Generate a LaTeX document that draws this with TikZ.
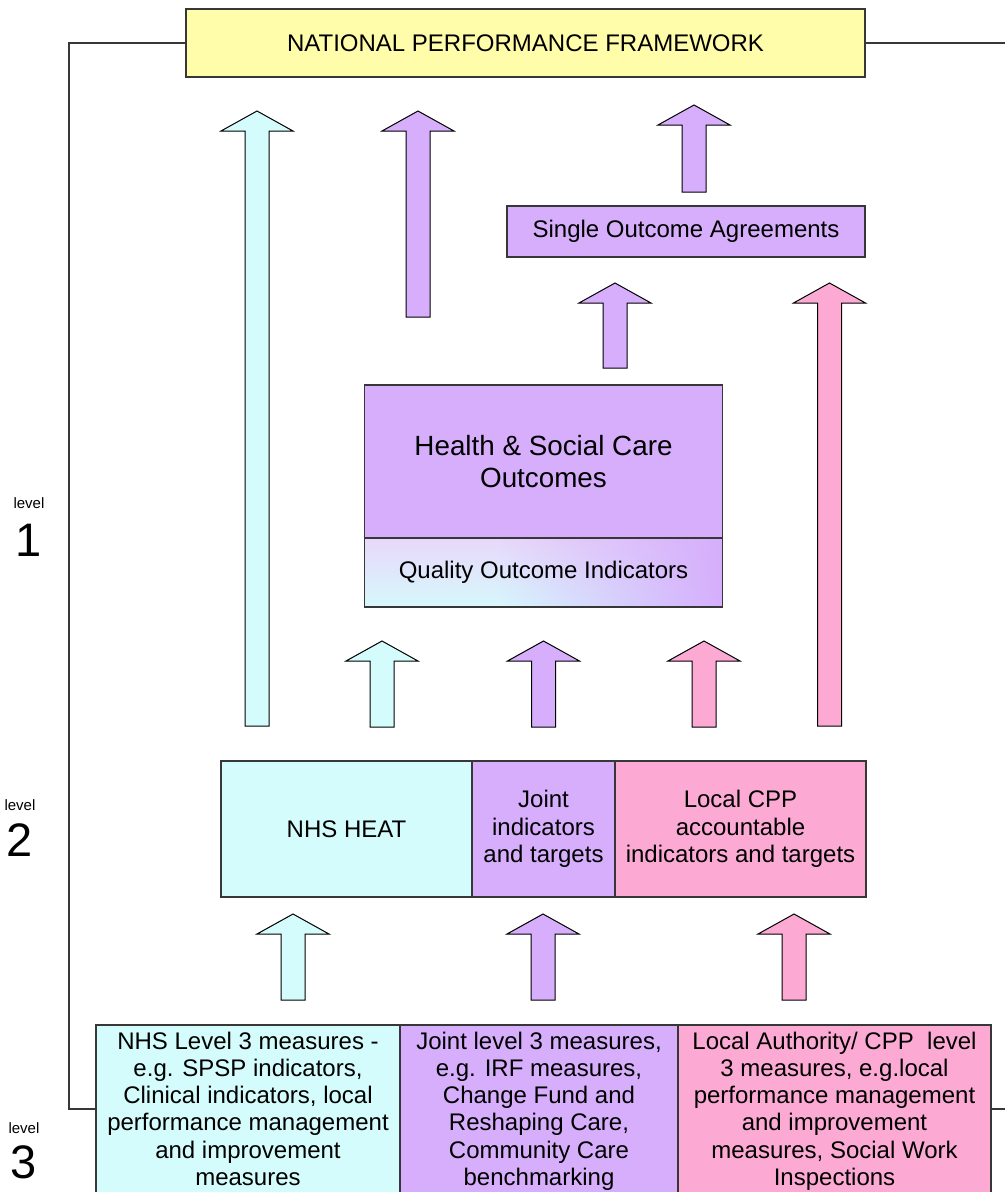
\documentclass[tikz,border=0pt]{standalone}
\usepackage{fontspec}
\setmainfont{Liberation Sans}
\usetikzlibrary{fadings}
\definecolor{ylw}{RGB}{255,252,170}
\definecolor{cyn}{RGB}{212,252,252}
\definecolor{prp}{RGB}{214,174,252}
\definecolor{pnk}{RGB}{252,170,212}
\definecolor{qtop}{RGB}{232,216,250}
\definecolor{qbot}{RGB}{214,248,252}
\definecolor{edgec}{RGB}{55,55,55}
\tikzfading[name=fadeleft, left color=transparent!100, right color=transparent!0]
\tikzset{
  box/.style={draw=edgec, line width=1.1pt, inner sep=0pt, align=center,
    font=\fontsize{24}{27.3}\selectfont},
  boxtext/.style={inner sep=0pt, align=center, font=\fontsize{24}{27.3}\selectfont},
  blk/.style={draw=black, line width=1pt, line join=miter},
  frameline/.style={draw=edgec, line width=1.1pt},
  lvlword/.style={inner sep=0pt, font=\fontsize{15}{18}\selectfont},
  lvlnum/.style={inner sep=0pt, font=\fontsize{47}{50}\selectfont}
}
\newcommand\blockup[4]{%
  \filldraw[blk, fill=#4] (#1,#2) -- (#1+36,#2+20) -- (#1+12,#2+20) -- (#1+12,#3)
    -- (#1-12,#3) -- (#1-12,#2+20) -- (#1-36,#2+20) -- cycle;
}
\begin{document}
\begin{tikzpicture}[x=1pt,y=-1pt]
\useasboundingbox (0,0) rectangle (1005,1192);
\clip (0,0) rectangle (1005,1192);

% frame lines
\coordinate (fl) at (69,1109);
\coordinate (fr) at (1005,43);
\coordinate (fr2) at (1005,1109);

% top box
\node[box, fill=ylw, minimum width=679pt, minimum height=68pt] (npf) at (525.5,43) {NATIONAL PERFORMANCE FRAMEWORK};

% single outcome agreements
\node[box, fill=prp, minimum width=358pt, minimum height=51pt] (soa) at (686,231.5) {Single Outcome Agreements};

% health & social care
\node[box, fill=prp, minimum width=358pt, minimum height=153pt, font=\fontsize{27.8}{32}\selectfont] (hsc) at (543.5,461.5) {Health \& Social Care\\Outcomes};
% quality outcome indicators background
\shade[top color=qtop, bottom color=qbot] (364.5,538) rectangle (722.5,607);
\fill[prp, path fading=fadeleft] (500,538) rectangle (722.5,607);
\node[box, minimum width=358pt, minimum height=69pt] (qoi) at (543.5,572.5) {Quality Outcome Indicators};

% level 2
\node[box, fill=cyn, minimum width=251pt, minimum height=136pt] (heat) at (346.5,829) {NHS HEAT};
\node[box, fill=prp, minimum width=143pt, minimum height=136pt] (jit) at (543.5,829) {Joint\\indicators\\and targets};
\node[box, fill=pnk, minimum width=251pt, minimum height=136pt] (cpp) at (740.5,829) {Local CPP\\accountable\\indicators and targets};

% level 3
\node[box, fill=cyn, minimum width=304pt, minimum height=200pt] (nhsl) at (248,1125) {};
\node[box, fill=prp, minimum width=278pt, minimum height=200pt] (jl) at (539,1125) {};
\node[box, fill=pnk, minimum width=313pt, minimum height=200pt] (lal) at (834.5,1125) {};
\node[boxtext, anchor=north, yshift=-7pt] (nhslt) at (nhsl.north) {NHS Level 3 measures -\\e.g. SPSP indicators,\\Clinical indicators, local\\performance management\\and improvement\\measures};
\node[boxtext, anchor=north, yshift=-7pt] (jlt) at (jl.north) {Joint level 3 measures,\\e.g. IRF measures,\\Change Fund and\\Reshaping Care,\\Community Care\\benchmarking};
\node[boxtext, anchor=north, yshift=-7pt] (lalt) at (lal.north) {Local Authority/ CPP\ \ level\\3 measures, e.g.local\\performance management\\and improvement\\measures, Social Work\\Inspections};

% frame connectors
\draw[frameline] (npf.west) -| (fl) -- (fl -| nhsl.west);
\draw[frameline] (npf.east) -- (fr);
\draw[frameline] (fr2 -| lal.east) -- (fr2);

% level labels
\node[lvlword] (lw1) at (29,503) {level};
\node[lvlnum] (ln1) at (29,540) {1};
\node[lvlword] (lw2) at (20,805) {level};
\node[lvlnum] (ln2) at (20,840) {2};
\node[lvlword] (lw3) at (24,1128) {level};
\node[lvlnum] (ln3) at (24,1162) {3};

% block arrows
\blockup{257}{111}{726}{cyn}
\blockup{418}{111}{317}{prp}
\blockup{694}{105}{192}{prp}
\blockup{615}{283}{368}{prp}
\blockup{829.5}{283}{726}{pnk}
\blockup{382}{641}{727}{cyn}
\blockup{543.5}{641}{727}{prp}
\blockup{704}{641}{727}{pnk}
\blockup{293}{914}{1000}{cyn}
\blockup{543}{914}{1000}{prp}
\blockup{794}{914}{1000}{pnk}
\end{tikzpicture}
\end{document}
